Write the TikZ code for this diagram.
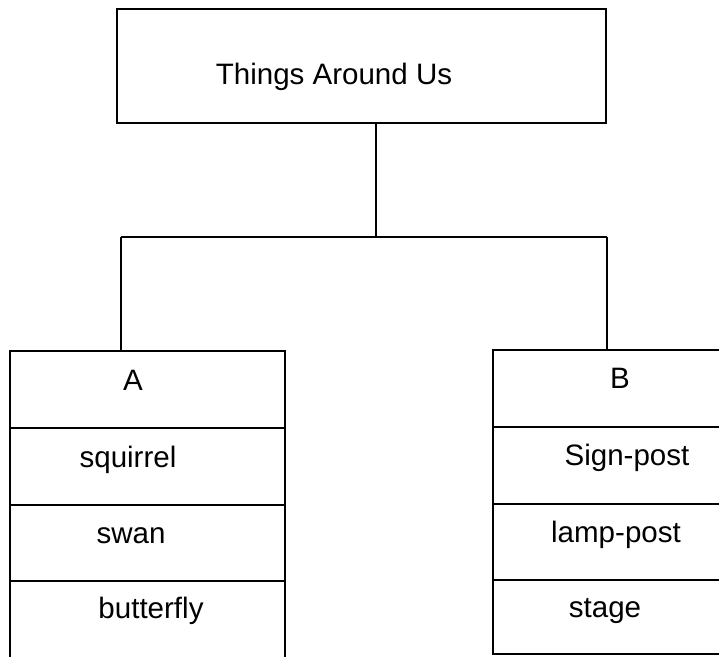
\documentclass[tikz,border=0pt]{standalone}
\usepackage{fontspec}
\setmainfont{Liberation Sans}
\usetikzlibrary{fit}

\begin{document}
\begin{tikzpicture}[x=0.025cm,y=-0.025cm,line width=0.8pt,
  box/.style={draw,rectangle,inner sep=0pt},
  lbl/.style={anchor=base,inner sep=0pt,font=\fontsize{21}{25}\selectfont}]
\useasboundingbox (0,0) rectangle (719,657);
\clip (0,0) rectangle (719,657);
% top box
\node [box, fit={(117,9) (606,123)}] (top) {};
\node [lbl] (title) at (334,85) {Things Around Us};
% column A
\node [box, fit={(10,351) (285,428)}] (a0) {};
\node [box, fit={(10,428) (285,505)}] (a1) {};
\node [box, fit={(10,505) (285,581)}] (a2) {};
\node [box, fit={(10,581) (285,670)}] (a3) {};
\node [lbl] (ta0) at (133,390) {A};
\node [lbl] (ta1) at (128,467) {squirrel};
\node [lbl] (ta2) at (131,543) {swan};
\node [lbl] (ta3) at (151,618) {butterfly};
% column B
\node [box, fit={(493,350) (721,427)}] (b0) {};
\node [box, fit={(493,427) (721,504)}] (b1) {};
\node [box, fit={(493,504) (721,580)}] (b2) {};
\node [box, fit={(493,580) (721,654)}] (b3) {};
\node [lbl] (tb0) at (620,388) {B};
\node [lbl] (tb1) at (627,465) {Sign-post};
\node [lbl] (tb2) at (616,542) {lamp-post};
\node [lbl] (tb3) at (605,617) {stage};
% connectors
\coordinate (hub) at (376,237);
\coordinate (lj) at (121,237);
\coordinate (rj) at (607,237);
\draw (top.south -| hub) -- (hub);
\draw (lj) -- (rj);
\draw (lj) -- (lj |- a0.north);
\draw (rj) -- (rj |- b0.north);

\end{tikzpicture}
\end{document}
